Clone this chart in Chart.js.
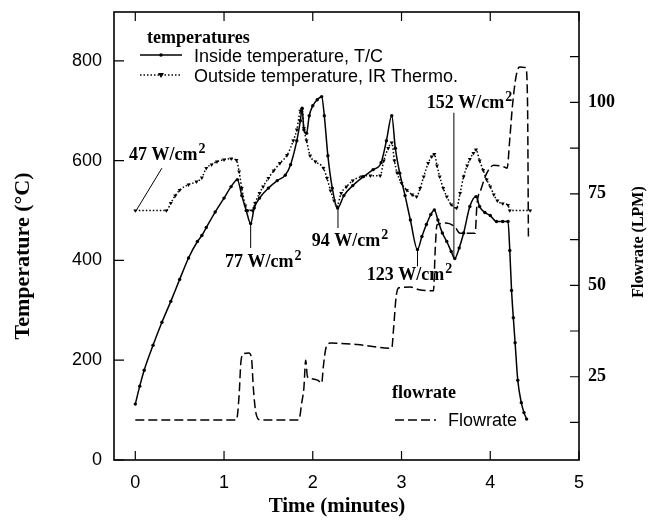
<!DOCTYPE html>
<html><head><meta charset="utf-8">
<script src="https://cdn.jsdelivr.net/npm/chart.js@4.4.0/dist/chart.umd.min.js"></script>
<style>html,body{margin:0;padding:0;background:#fff;}#wrap{width:663px;height:523px;}</style>
</head><body><div id="wrap"><canvas id="c" width="663" height="523"></canvas></div>
<script>
// ---------- data ----------
const insideTime = [0.00,0.05,0.10,0.20,0.30,0.40,0.50,0.60,0.70,0.75,0.80,0.90,1.00,1.08,1.15,1.20,1.25,1.30,1.34,1.40,1.50,1.60,1.69,1.75,1.82,1.86,1.88,1.90,1.93,1.96,2.00,2.05,2.10,2.13,2.17,2.22,2.28,2.35,2.45,2.57,2.68,2.77,2.83,2.89,2.93,2.98,3.04,3.10,3.18,3.23,3.28,3.33,3.37,3.41,3.46,3.51,3.56,3.60,3.65,3.70,3.77,3.84,3.88,3.94,4.00,4.07,4.14,4.20,4.22,4.24,4.26,4.28,4.31,4.35,4.38,4.41];
const insideTemp = [112,148,180,230,276,318,362,405,438,450,466,497,525,548,562,530,500,474,505,525,545,560,571,592,640,680,705,662,655,690,710,722,728,690,610,545,505,530,550,568,582,596,640,690,625,575,530,481,422,448,472,492,501,481,455,438,418,404,425,455,508,528,508,496,490,478,478,478,420,340,285,235,160,115,95,82];

const outsideTime = [0.00,0.35,0.40,0.45,0.50,0.60,0.69,0.75,0.80,0.86,0.92,1.00,1.08,1.14,1.17,1.20,1.24,1.27,1.32,1.35,1.40,1.44,1.50,1.56,1.63,1.71,1.78,1.82,1.86,1.88,1.90,1.93,1.97,2.03,2.12,2.16,2.20,2.24,2.27,2.32,2.38,2.45,2.55,2.65,2.76,2.80,2.85,2.89,2.92,2.95,3.00,3.06,3.12,3.17,3.21,3.25,3.30,3.34,3.37,3.40,3.43,3.47,3.51,3.56,3.62,3.66,3.70,3.74,3.77,3.81,3.84,3.88,3.92,3.96,4.00,4.04,4.08,4.14,4.20,4.22,4.45];
const outsideTemp = [500,500,515,530,541,552,558,566,585,592,598,602,604,601,578,545,510,500,500,515,535,548,565,580,595,611,640,662,700,703,665,640,610,598,585,565,540,520,508,535,548,560,568,570,570,600,625,636,600,576,555,541,532,528,545,568,595,608,613,590,568,545,528,512,505,535,568,590,603,615,622,600,581,562,548,532,520,514,511,500,500];

const flowTime = [0.00,1.14,1.17,1.19,1.22,1.28,1.31,1.33,1.36,1.41,1.84,1.86,1.87,1.90,1.92,1.94,1.98,2.06,2.10,2.12,2.15,2.20,2.50,2.89,2.91,2.94,2.97,3.10,3.20,3.36,3.38,3.40,3.50,3.60,3.66,3.83,3.85,3.90,3.96,4.04,4.15,4.19,4.22,4.25,4.29,4.33,4.40,4.42,4.43];
const flowRate = [13.2,13.2,20,29,31.3,31.5,30,22,15,13.2,13.2,15,17,22,29.5,25,24.5,24,23.2,28,33,34.2,33.8,32.8,38,47,49.3,49.5,48.8,48.5,60,66.5,67,66,64.2,64.2,72,76.5,80.6,82.8,82.4,82,90,99,107,109.7,109.5,100,63];

const xTicks = [0,1,2,3,4,5];
const tempTicks = [0,200,400,600,800];
const flowTicks = [12.5,25,37.5,50,62.5,75,87.5,100,112.5];
const flowLabelled = [25,50,75,100];

// annotation labels (text, label anchor in data units, leader line in data units)
const notes = [
  {num:'47',  at:[-0.071,601], line:[[0.30,585],[0.01,500]]},
  {num:'77',  at:[1.011,387],  line:[[1.30,474],[1.30,425]]},
  {num:'94',  at:[1.988,428],  line:[[2.284,505],[2.284,465]]},
  {num:'123', at:[2.608,361],  line:[[3.18,422],[3.18,388]]},
  {num:'152', at:[3.284,705],  line:[[3.59,404],[3.59,696]]}
];

const SERIF = '"Liberation Serif", "Times New Roman", serif';
const SANS = '"Liberation Sans", Arial, sans-serif';

function pts(xs, ys){ return xs.map((t,i)=>({x:t, y:ys[i]})); }

const decor = {
  id:'decor',
  afterDraw(chart){
    const {ctx, chartArea:a} = chart;
    const x = chart.scales.x, y = chart.scales.y, y2 = chart.scales.y2;
    ctx.save();
    ctx.strokeStyle = '#000'; ctx.fillStyle = '#000';
    // frame
    ctx.lineWidth = 1.6;
    ctx.strokeRect(a.left, a.top, a.right - a.left, a.bottom - a.top);
    // inward ticks
    ctx.lineWidth = 1.2;
    ctx.beginPath();
    xTicks.forEach(v=>{
      const px = x.getPixelForValue(v);
      ctx.moveTo(px, a.bottom); ctx.lineTo(px, a.bottom - 9);
      ctx.moveTo(px, a.top); ctx.lineTo(px, a.top + 9);
    });
    tempTicks.forEach(v=>{
      const py = y.getPixelForValue(v);
      ctx.moveTo(a.left, py); ctx.lineTo(a.left + 10, py);
    });
    flowTicks.forEach(v=>{
      const py = y2.getPixelForValue(v);
      ctx.moveTo(a.right, py); ctx.lineTo(a.right - 9, py);
    });
    ctx.stroke();

    // annotations
    ctx.lineWidth = 1;
    notes.forEach(n=>{
      ctx.beginPath();
      ctx.moveTo(x.getPixelForValue(n.line[0][0]), y.getPixelForValue(n.line[0][1]));
      ctx.lineTo(x.getPixelForValue(n.line[1][0]), y.getPixelForValue(n.line[1][1]));
      ctx.stroke();
      const lx = x.getPixelForValue(n.at[0]), ly = y.getPixelForValue(n.at[1]);
      ctx.font = 'bold 18px ' + SERIF;
      ctx.textAlign = 'left'; ctx.textBaseline = 'alphabetic';
      const main = n.num + ' W/cm';
      ctx.fillText(main, lx, ly);
      const w = ctx.measureText(main).width;
      ctx.font = 'bold 14px ' + SERIF;
      ctx.fillText('2', lx + w + 1, ly - 7);
    });

    // legend: temperatures
    ctx.font = 'bold 18px ' + SERIF;
    ctx.textAlign = 'left'; ctx.textBaseline = 'alphabetic';
    ctx.fillText('temperatures', 147, 43);
    ctx.lineWidth = 1.5;
    ctx.beginPath(); ctx.moveTo(140, 55); ctx.lineTo(182, 55); ctx.stroke();
    ctx.beginPath(); ctx.arc(161, 55, 1.8, 0, Math.PI*2); ctx.fill();
    ctx.setLineDash([1.5, 2]);
    ctx.beginPath(); ctx.moveTo(140, 75); ctx.lineTo(182, 75); ctx.stroke();
    ctx.setLineDash([]);
    ctx.beginPath(); ctx.moveTo(158, 73); ctx.lineTo(164, 73); ctx.lineTo(161, 78); ctx.closePath(); ctx.fill();
    ctx.font = '18px ' + SANS;
    ctx.fillText('Inside temperature, T/C', 194, 62);
    ctx.fillText('Outside temperature, IR Thermo.', 194, 82);

    // legend: flowrate
    ctx.font = 'bold 18px ' + SERIF;
    ctx.fillText('flowrate', 392, 398);
    ctx.setLineDash([9, 4]);
    ctx.beginPath(); ctx.moveTo(395, 420); ctx.lineTo(436, 420); ctx.stroke();
    ctx.setLineDash([]);
    ctx.font = '18px ' + SANS;
    ctx.fillText('Flowrate', 448, 426);

    // axis titles
    ctx.font = 'bold 21px ' + SERIF;
    ctx.textAlign = 'center';
    ctx.fillText('Time (minutes)', 337, 512);
    ctx.save();
    ctx.font = 'bold 22px ' + SERIF;
    ctx.translate(29, 256); ctx.rotate(-Math.PI/2);
    ctx.fillText('Temperature (\u00B0C)', 0, 0);
    ctx.restore();
    ctx.save();
    ctx.font = 'bold 16px ' + SERIF;
    ctx.translate(643, 242); ctx.rotate(-Math.PI/2);
    ctx.fillText('Flowrate (LPM)', 0, 0);
    ctx.restore();
    ctx.restore();
  }
};

function noPadV(s){ s.paddingTop = 0; s.paddingBottom = 0; }

new Chart(document.getElementById('c'), {
  type:'line',
  data:{
    datasets:[
      {label:'Inside temperature, T/C', data:pts(insideTime, insideTemp), yAxisID:'y',
       borderColor:'#000', borderWidth:1.5, pointRadius:1.7, pointBackgroundColor:'#000', pointBorderWidth:0,
       cubicInterpolationMode:'monotone'},
      {label:'Outside temperature, IR Thermo.', data:pts(outsideTime, outsideTemp), yAxisID:'y',
       borderColor:'#000', borderWidth:1.5, borderDash:[1.5,2], pointStyle:'triangle', rotation:180,
       pointRadius:2.3, pointBackgroundColor:'#000', pointBorderWidth:0, cubicInterpolationMode:'monotone'},
      {label:'Flowrate', data:pts(flowTime, flowRate), yAxisID:'y2',
       borderColor:'#000', borderWidth:1.5, borderDash:[9,4], pointRadius:0, cubicInterpolationMode:'monotone'}
    ]
  },
  options:{
    responsive:false, animation:false, devicePixelRatio:1,
    layout:{padding:{top:12, left:0, right:0, bottom:0}},
    plugins:{legend:{display:false}, tooltip:{enabled:false}},
    scales:{
      x:{type:'linear', position:'bottom', min:-0.24, max:5,
         grid:{display:false, drawTicks:false}, border:{display:false},
         afterBuildTicks:s=>{ s.ticks = xTicks.map(v=>({value:v})); },
         afterFit:s=>{ s.height = 63; s.paddingLeft = 0; s.paddingRight = 0; },
         ticks:{color:'#000', font:{family:SANS, size:18}, padding:12, maxRotation:0, autoSkip:false}},
      y:{type:'linear', position:'left', min:0, max:898,
         grid:{display:false, drawTicks:false}, border:{display:false},
         afterBuildTicks:s=>{ s.ticks = tempTicks.map(v=>({value:v})); },
         afterFit:s=>{ s.width = 114; noPadV(s); },
         ticks:{color:'#000', font:{family:SANS, size:18}, padding:12}},
      y2:{type:'linear', position:'right', min:2.24, max:124.7,
         grid:{display:false, drawTicks:false}, border:{display:false},
         afterBuildTicks:s=>{ s.ticks = flowTicks.map(v=>({value:v})); },
         afterFit:s=>{ s.width = 84; noPadV(s); },
         ticks:{color:'#000', font:{family:SERIF, size:18, weight:'bold'}, padding:9,
                callback:v=> flowLabelled.includes(v) ? String(v) : ''}}
    }
  },
  plugins:[decor]
});
</script></body></html>
